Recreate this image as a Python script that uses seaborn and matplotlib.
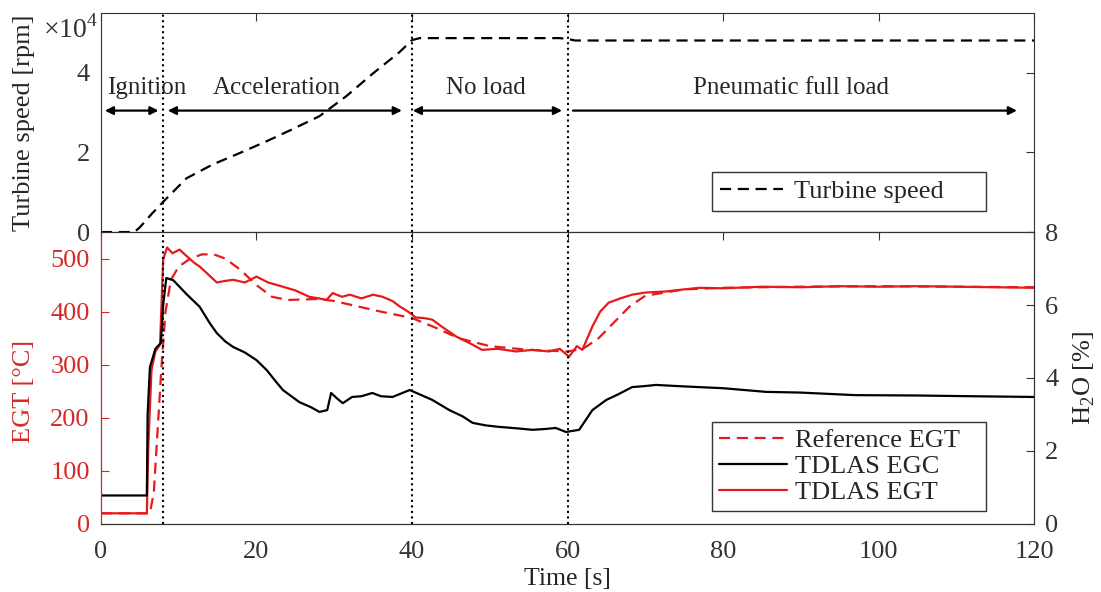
import numpy as np
import matplotlib
matplotlib.use("Agg")
import matplotlib.pyplot as plt
import seaborn as sns

# ---- data ----
t_speed = [0, 4.3, 5.0, 6.5, 8.0, 11.0, 14.4, 17.8, 21.3, 24.6, 28.1, 31.6, 34.9, 38.4, 40.0, 41.0, 59.0, 60.0, 61.0, 120]
speed = [0, 0, 0.12, 0.45, 0.76, 1.35, 1.70, 1.98, 2.28, 2.58, 2.91, 3.42, 3.97, 4.52, 4.82, 4.87, 4.87, 4.85, 4.81, 4.81]

t_ref = [0, 6.3, 6.8, 7.3, 7.8, 8.3, 9, 10, 11.5, 13, 14.5, 16, 18, 20, 22, 24, 26, 28, 30, 33, 36, 40, 43, 46,
         50, 55, 60, 62, 64, 66, 68, 70, 75, 80, 90, 100, 110, 120]
ref_egt = [20, 20, 60, 180, 300, 400, 460, 485, 500, 508, 508, 500, 478, 450, 428, 422, 423, 424, 420, 410, 400, 388,
           370, 350, 335, 328, 325, 330, 350, 380, 410, 430, 442, 445, 447, 448, 447, 446]

t_egt = [0, 5.9, 6.1, 6.5, 7.0, 7.6, 8.0, 8.5, 9.2, 10.1, 11, 12, 12.7, 13.8, 14.9, 16, 17, 18.5, 20, 21.5, 23.4, 25,
         26.8, 28, 29, 29.8, 31, 32, 33.5, 35, 36.2, 37.5, 38.4, 39.5, 40.5, 41.5, 42.6, 44, 45.7, 47.5, 49, 51, 53.4,
         55.5, 57.6, 59, 60.2, 61.2, 61.9, 63.2, 64.2, 65.3, 66.8, 68.3, 70, 72.6, 75, 77, 80, 85, 90, 95, 100, 105,
         110, 115, 120]
tdlas_egt = [20, 20, 150, 290, 325, 338, 498, 521, 510, 517, 505, 492, 485, 470, 455, 458, 460, 455, 466, 455, 447, 440,
             428, 425, 422, 435, 428, 432, 425, 432, 428, 420, 410, 400, 389, 388, 385, 370, 353, 340, 328, 330, 325,
             328, 325, 330, 315, 335, 328, 372, 400, 417, 425, 432, 436, 438, 442, 445, 444, 447, 446, 448, 447, 448,
             447, 446, 445]

t_egc = [0, 5.9, 6.0, 6.3, 7.0, 7.7, 8.0, 8.4, 9.3, 11, 12.7, 14, 14.9, 16, 17, 18.5, 20, 21.3, 22.5, 23.4, 25.5, 27,
         28.1, 29.1, 29.6, 30.3, 31.1, 32.3, 33.5, 34.9, 36, 37.5, 39.7, 41, 42.6, 44.8, 46.5, 47.8, 49.5, 51.2, 53.5,
         55.5, 57, 58.5, 59.8, 61.5, 63.2, 65, 66.5, 68.3, 70, 71.4, 74, 76.9, 80, 85.5, 90, 97, 105, 112, 120]
tdlas_egc = [0.78, 0.78, 3.0, 4.3, 4.8, 4.96, 6.0, 6.74, 6.68, 6.3, 5.95, 5.5, 5.23, 5.0, 4.85, 4.7, 4.49, 4.22, 3.9,
             3.67, 3.34, 3.2, 3.07, 3.12, 3.59, 3.45, 3.31, 3.48, 3.5, 3.59, 3.5, 3.48, 3.67, 3.55, 3.4, 3.12, 2.95,
             2.77, 2.7, 2.66, 2.62, 2.58, 2.6, 2.63, 2.52, 2.58, 3.12, 3.40, 3.55, 3.75, 3.78, 3.81, 3.78, 3.75, 3.72,
             3.62, 3.6, 3.53, 3.52, 3.5, 3.48]

phase_edges = [8, 40, 60]
phase_names = ["Ignition", "Acceleration", "No load", "Pneumatic full load"]
phase_text_x = [5.9, 22.6, 49.5, 88.7]

sns.set_style("white")
plt.rcParams['font.family'] = ['Liberation Serif', 'DejaVu Serif']
plt.rcParams['mathtext.fontset'] = 'custom'
plt.rcParams['mathtext.rm'] = 'Liberation Serif'
plt.rcParams['font.size'] = 19

RED = '#e41a1c'
TXT_RED = '#d42a2a'
FRAME = '#333333'
TICK_FS = 19
LAB_FS = 19

fig = plt.figure(figsize=(11.01, 5.92), dpi=100)
ax_top = fig.add_axes([0.0917, 0.608, 0.8475, 0.370])
ax = fig.add_axes([0.0917, 0.115, 0.8475, 0.493])
ax2 = ax.twinx()

# ---- top panel: turbine speed ----
sns.lineplot(x=t_speed, y=speed, ax=ax_top, color='black', lw=1.6, label='Turbine speed')
ax_top.lines[-1].set_dashes((5, 3))
ax_top.set_xlim(0, 120)
ax_top.set_ylim(0, 5.5)
ax_top.set_yticks([0, 2, 4])
ax_top.set_xticks(range(0, 121, 20))
ax_top.tick_params(direction='in', length=6, top=True, right=True, labelbottom=False,
                   labelsize=TICK_FS, colors=FRAME, pad=8)
for s in ax_top.spines.values():
    s.set_color(FRAME)
ax_top.set_ylabel('Turbine speed [rpm]', fontsize=LAB_FS, va='center')
ax_top.yaxis.set_label_coords(-0.0825, 0.5)
fig.text(0.089, 0.950, r'$\times10^4$', ha='right', va='center', fontsize=20, color=FRAME)
ax_top.legend(loc='lower left', bbox_to_anchor=(0.655, 0.096, 0.2937, 0.2), mode='expand',
              frameon=True, fancybox=False, edgecolor='black', fontsize=19, handlelength=2.4,
              handletextpad=0.4, borderpad=0.3, borderaxespad=0)

# phase arrows
arrow_y = 3.05
text_y = 3.62
arrows = [(0.5, 7.4, True), (8.6, 38.7, True), (40.1, 59.3, True), (60.7, 117.8, False)]
for (a, b, both), name, tx in zip(arrows, phase_names, phase_text_x):
    style = '<|-|>' if both else '-|>'
    ax_top.annotate('', xy=(b, arrow_y), xytext=(a, arrow_y),
                    arrowprops=dict(arrowstyle=style, color='black', lw=1.6,
                                    mutation_scale=12, shrinkA=0, shrinkB=0))
    ax_top.text(tx, text_y, name, ha='center', va='center', fontsize=18)

# ---- bottom panel ----
sns.lineplot(x=t_ref, y=ref_egt, ax=ax, color=RED, lw=1.6, label='Reference EGT')
ax.lines[-1].set_dashes((5, 3))
sns.lineplot(x=t_egt, y=tdlas_egt, ax=ax, color=RED, lw=1.6, label='TDLAS EGT')
sns.lineplot(x=t_egc, y=tdlas_egc, ax=ax2, color='black', lw=1.6, label='TDLAS EGC')

ax.set_xlim(0, 120)
ax.set_ylim(0, 550)
ax2.set_ylim(0, 8)
ax.set_yticks(range(0, 501, 100))
ax2.set_yticks([0, 2, 4, 6, 8])
ax.set_xticks(range(0, 121, 20))
ax.tick_params(axis='x', direction='in', length=6, top=True, labelsize=TICK_FS, colors=FRAME, pad=12)
ax.tick_params(axis='y', direction='in', length=6, labelsize=TICK_FS, colors=TXT_RED, pad=8)
ax2.tick_params(axis='y', direction='in', length=6, labelsize=TICK_FS, colors=FRAME, pad=8)
for s in list(ax.spines.values()) + list(ax2.spines.values()):
    s.set_color(FRAME)
ax.spines['left'].set_color(RED)
ax2.spines['left'].set_color(RED)
ax.set_xlabel('Time [s]', fontsize=18.5, va='center')
ax.xaxis.set_label_coords(0.5, -(579 - 524) / 292)
ax.set_ylabel('EGT [°C]', fontsize=LAB_FS, color=TXT_RED, va='center')
ax.yaxis.set_label_coords(-0.0825, 0.455)
ax2.set_ylabel('H$_2$O [%]', fontsize=LAB_FS, va='center', rotation=90)
ax2.yaxis.set_label_coords(1.0535, 0.5)

for x in phase_edges:
    ax.axvline(x, color='black', ls=':', lw=1.5)
    ax_top.axvline(x, color='black', ls=':', lw=1.5)

# combined legend
h1, l1 = ax.get_legend_handles_labels()
h2, l2 = ax2.get_legend_handles_labels()
ax.get_legend().remove()
ax2.get_legend().remove()
handles = [h1[0], h2[0], h1[1]]
labels = [l1[0], l2[0], l1[1]]
ax2.legend(handles, labels, loc='lower left', bbox_to_anchor=(0.655, 0.0445, 0.2937, 0.3), mode='expand',
           frameon=True, fancybox=False, edgecolor='black', fontsize=19, handlelength=2.6,
           handletextpad=0.3, borderpad=0.25, labelspacing=0.1, borderaxespad=0)

fig.savefig('out.png', dpi=100)
